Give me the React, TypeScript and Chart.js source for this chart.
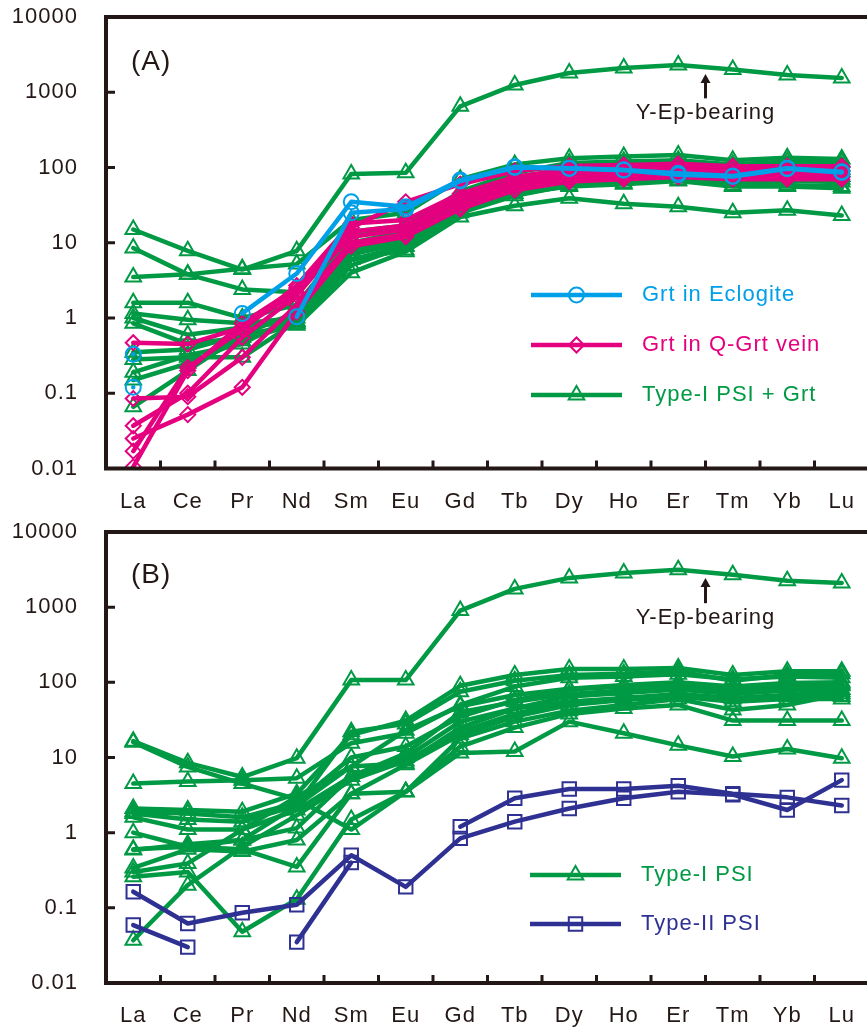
import React, { useEffect, useRef } from "react";
import { Chart, registerables } from "chart.js";

Chart.register(...registerables);

// ---------- categories & ticks ----------
const elements = ["La", "Ce", "Pr", "Nd", "Sm", "Eu", "Gd", "Tb", "Dy", "Ho", "Er", "Tm", "Yb", "Lu"];
const yTickValues = [0.01, 0.1, 1, 10, 100, 1000, 10000];
const yTickLabels = ["0.01", "0.1", "1", "10", "100", "1000", "10000"];

// ---------- Panel A: Grt in Eclogite ----------
const eclogiteA1 = [0.33, null, 1.15, 3.9, 35, 30, 68, 102, 98, 93, 84, 77, 98, 88];
const eclogiteA2 = [0.12, null, null, 1.04, 25, 28, 66, 100, 97, 92, 80, 76, 96, 86];

// ---------- Panel A: Grt in Q-Grt vein ----------
const veinA1 = [0.47, 0.45, 0.75, 2.2, 12, 15, 35, 60, 75, 80, 85, 80, 80, 80];
const veinA2 = [0.085, 0.09, 0.3, 1.5, 10, 13, 30, 55, 70, 75, 80, 75, 75, 75];
const veinA3 = [0.037, 0.1, 0.55, 2.0, 14, 17, 40, 65, 85, 90, 95, 90, 90, 90];
const veinA4 = [0.025, 0.052, 0.12, 1.2, 9, 12, 28, 50, 65, 70, 75, 70, 70, 70];
const veinA5 = [0.017, 0.22, 0.7, 2.7, 18, 20, 45, 75, 95, 100, 105, 100, 100, 100];
const veinA6 = [0.0105, 0.2, 0.85, 2.5, 16, 35, 60, 90, 105, 108, 112, 104, 104, 104];

// ---------- Panel A: Type-I PSI + Grt ----------
const psiGrtA1 = [15, 7.8, 4.4, 7.8, 82, 85, 650, 1250, 1800, 2100, 2300, 2000, 1700, 1550];
const psiGrtA2 = [8.5, 3.8, 2.4, 2.2, 14, 17, 45, 75, 95, 100, 105, 90, 95, 95];
const psiGrtA3 = [3.5, 3.8, 4.5, 5.2, 20, 25, 70, 110, 133, 140, 147, 125, 135, 130];
const psiGrtA4 = [1.6, 1.6, 1.0, 1.5, 12, 16, 48, 85, 115, 120, 125, 110, 120, 118];
const psiGrtA5 = [1.15, 0.95, 0.85, 1.0, 8, 12, 38, 65, 85, 90, 95, 85, 90, 88];
const psiGrtA6 = [1.0, 0.6, 0.75, 0.9, 7, 10, 30, 55, 70, 75, 80, 65, 70, 70];
const psiGrtA7 = [0.85, 0.45, 0.55, 0.85, 6, 9, 26, 45, 56, 60, 66, 56, 56, 53];
const psiGrtA8 = [0.35, 0.38, 0.6, 1.2, 10, 14, 40, 70, 100, 105, 110, 100, 105, 105];
const psiGrtA9 = [0.28, 0.3, 0.3, 0.9, 6, 8, 25, 42, 58, 62, 68, 58, 58, 56];
const psiGrtA10 = [0.19, 0.32, 0.45, 1.1, 8, 11, 32, 58, 78, 82, 88, 75, 78, 76];
const psiGrtA11 = [0.066, 0.2, 0.6, 0.8, 4, 7.6, 22, 31, 39, 33, 30, 25, 27, 23];
const psiGrtA12 = [0.15, 0.25, 0.5, 0.85, 5, 9, 28, 50, 65, 70, 75, 63, 66, 64];

// ---------- Panel B: Type-I PSI ----------
const psiB1 = [16.5, 8.5, 5.5, 9.8, 107, 107, 900, 1750, 2450, 2850, 3150, 2700, 2250, 2100];
const psiB2 = [16, 7.5, 4.5, 2.8, 1.1, 3.5, 11.5, 12, 30, 21, 14.5, 10.3, 13, 9.8];
const psiB3 = [4.5, 4.8, 5.0, 5.3, 15.5, 21, 50, 88, 115, 120, 128, 110, 120, 115];
const psiB4 = [2.1, 2.0, 1.9, 3.3, 20, 31, 90, 125, 150, 150, 155, 125, 140, 140];
const psiB5 = [1.8, 1.5, 1.4, 2.3, 22, 28, 75, 105, 125, 130, 140, 105, 125, 130];
const psiB6 = [1.6, 1.1, 1.1, 3.0, 7.6, 23, 48, 68, 82, 92, 100, 88, 98, 100];
const psiB7 = [1.0, 0.65, 0.8, 1.15, 5.6, 11.4, 40, 55, 70, 78, 85, 75, 85, 90];
const psiB8 = [0.59, 0.7, 0.8, 2.3, 7.6, 8.4, 25, 45, 65, 72, 80, 70, 78, 80];
const psiB9 = [0.34, 0.6, 0.56, 0.8, 3.3, 3.5, 18, 30, 42, 50, 60, 43, 50, 70];
const psiB10 = [0.3, 0.39, 1.1, 2.0, 5.6, 10, 30, 45, 55, 60, 65, 60, 65, 65];
const psiB11 = [0.26, 0.3, 0.048, 0.13, 1.5, 3.5, 14, 25, 38, 45, 50, 31, 31, 31];
const psiB12 = [0.037, 0.2, 0.65, 1.7, 5, 9, 22, 38, 55, 62, 70, 62, 68, 75];
const psiB13 = [0.6, 0.65, 0.6, 0.35, 3.3, 8, 20, 35, 50, 58, 65, 55, 60, 60];
const psiB14 = [1.9, 1.8, 1.6, 2.5, 10, 14, 35, 58, 80, 88, 95, 85, 90, 95];

// ---------- Panel B: Type-II PSI ----------
const psi2B1 = [0.164, 0.062, 0.086, 0.11, 0.5, 0.19, 0.84, 1.4, 2.1, 2.87, 3.5, 3.2, 2.0, 5.0];
const psi2B2 = [0.059, 0.03, null, 0.035, 0.4, null, 1.2, 2.87, 3.8, 3.8, 4.2, 3.3, 2.95, 2.3];

// ---------- groups ----------
const eclogiteA = [eclogiteA1, eclogiteA2];
const veinA = [veinA1, veinA2, veinA3, veinA4, veinA5, veinA6];
const psiGrtA = [psiGrtA1, psiGrtA2, psiGrtA3, psiGrtA4, psiGrtA5, psiGrtA6, psiGrtA7, psiGrtA8, psiGrtA9, psiGrtA10, psiGrtA11, psiGrtA12];
const psiB = [psiB1, psiB2, psiB3, psiB4, psiB5, psiB6, psiB7, psiB8, psiB9, psiB10, psiB11, psiB12, psiB13, psiB14];
const psi2B = [psi2B1, psi2B2];

// ---------- styles ----------
const AXIS = "#231815";
const BLUE = "#00a0e9";
const MAGENTA = "#e4007f";
const GREEN = "#009944";
const NAVY = "#2e3192";
const FONT = '"Liberation Sans", Arial, Helvetica, sans-serif';

type Style = "circle" | "rectRot" | "triangle" | "rect";
const RADIUS: Record<Style, number> = { circle: 7.5, rectRot: 7.5, triangle: 9, rect: 9.5 };

function makeSets(group: (number | null)[][], label: string, color: string, style: Style, order: number) {
  return group.map((data, i) => ({
    label: `${label} ${i + 1}`,
    data,
    borderColor: color,
    backgroundColor: "rgba(0,0,0,0)",
    borderWidth: 4.5,
    borderJoinStyle: "round",
    borderCapStyle: "round",
    pointStyle: style,
    pointRadius: RADIUS[style],
    pointBorderWidth: 2,
    pointBorderColor: color,
    pointBackgroundColor: "rgba(0,0,0,0)",
    tension: 0,
    spanGaps: false,
    order,
  }));
}

function drawMarker(ctx: CanvasRenderingContext2D, style: Style, x: number, y: number, color: string) {
  const r = RADIUS[style];
  ctx.save();
  ctx.strokeStyle = color;
  ctx.lineWidth = 2;
  ctx.beginPath();
  if (style === "circle") {
    ctx.arc(x, y, r, 0, Math.PI * 2);
  } else if (style === "rectRot") {
    ctx.moveTo(x - r, y);
    ctx.lineTo(x, y - r);
    ctx.lineTo(x + r, y);
    ctx.lineTo(x, y + r);
    ctx.closePath();
  } else if (style === "triangle") {
    const w = r * Math.sin(Math.PI / 3);
    ctx.moveTo(x, y - r);
    ctx.lineTo(x + w, y + r / 2);
    ctx.lineTo(x - w, y + r / 2);
    ctx.closePath();
  } else {
    const s = Math.SQRT1_2 * r;
    ctx.rect(x - s, y - s, 2 * s, 2 * s);
  }
  ctx.stroke();
  ctx.restore();
}

function setSpacing(chart: any) {
  try {
    chart.ctx.letterSpacing = "1px";
  } catch (e) {
    /* ignore */
  }
}

const framePlugin = {
  id: "frame",
  beforeUpdate(chart: any) {
    setSpacing(chart);
  },
  beforeLayout(chart: any) {
    setSpacing(chart);
  },
  beforeDraw(chart: any) {
    setSpacing(chart);
  },
  afterDraw(chart: any, _args: any, opts: any) {
    const { ctx, chartArea: a, scales } = chart;
    const xs = scales.x;
    const ys = scales.y;
    ctx.save();
    // axes: top, left, bottom
    ctx.strokeStyle = AXIS;
    ctx.lineWidth = 4;
    ctx.lineJoin = "miter";
    ctx.beginPath();
    ctx.moveTo(a.right + 4, a.top);
    ctx.lineTo(a.left, a.top);
    ctx.lineTo(a.left, a.bottom);
    ctx.lineTo(a.right + 4, a.bottom);
    ctx.stroke();
    // inward ticks
    ctx.lineWidth = 3;
    ctx.beginPath();
    for (let i = 1; i < elements.length; i++) {
      const px = xs.getPixelForValue(i - 0.5);
      ctx.moveTo(px, a.bottom);
      ctx.lineTo(px, a.bottom - 8);
    }
    yTickValues.forEach((v) => {
      const py = ys.getPixelForValue(v);
      ctx.moveTo(a.left, py);
      ctx.lineTo(a.left + 9, py);
    });
    ctx.stroke();

    // panel letter
    ctx.fillStyle = AXIS;
    ctx.font = `28px ${FONT}`;
    ctx.textBaseline = "middle";
    ctx.textAlign = "left";
    ctx.fillText(opts.letter, a.left + 25, a.top + opts.letterDy);

    // annotation arrow + text
    const an = opts.annotation;
    const ax = xs.getPixelForValue(an.xValue);
    const tipY = ys.getPixelForValue(an.tip);
    const baseY = ys.getPixelForValue(an.base);
    ctx.strokeStyle = AXIS;
    ctx.lineWidth = 3;
    ctx.beginPath();
    ctx.moveTo(ax, baseY);
    ctx.lineTo(ax, tipY + 6);
    ctx.stroke();
    ctx.beginPath();
    ctx.moveTo(ax, tipY);
    ctx.lineTo(ax + 5, tipY + 9);
    ctx.lineTo(ax - 5, tipY + 9);
    ctx.closePath();
    ctx.fill();
    ctx.font = `22px ${FONT}`;
    ctx.textAlign = "center";
    ctx.fillText(an.text, ax, ys.getPixelForValue(an.textAt));

    // legend
    const lg = opts.legend;
    lg.items.forEach((it: any, i: number) => {
      const y = a.top + lg.y + i * lg.dy;
      const x0 = a.left + lg.x;
      const x1 = x0 + 91;
      ctx.strokeStyle = it.color;
      ctx.lineWidth = 4.5;
      ctx.beginPath();
      ctx.moveTo(x0, y);
      ctx.lineTo(x1, y);
      ctx.stroke();
      drawMarker(ctx, it.style, (x0 + x1) / 2, y, it.color);
      ctx.fillStyle = it.color;
      ctx.font = `22px ${FONT}`;
      ctx.textAlign = "left";
      ctx.fillText(it.label, x1 + 20, y);
    });
    ctx.restore();
  },
};

const CANVAS_W = 900;
const AREA_RIGHT = 869;

function Panel({ top, height, areaBottom, datasets, frame }: any) {
  const ref = useRef<HTMLCanvasElement>(null);
  useEffect(() => {
    const chart = new Chart(ref.current as HTMLCanvasElement, {
      type: "line",
      data: { labels: elements, datasets },
      options: {
        animation: false,
        responsive: false,
        maintainAspectRatio: false,
        devicePixelRatio: 1,
        layout: { autoPadding: false, padding: { top: 17, right: CANVAS_W - AREA_RIGHT, left: 0, bottom: 0 } },
        plugins: { legend: { display: false }, tooltip: { enabled: false }, frame } as any,
        scales: {
          x: {
            type: "category",
            offset: true,
            grid: { display: false, offset: true, drawTicks: false },
            border: { display: false },
            ticks: { color: AXIS, font: { family: FONT, size: 22 }, padding: 20, autoSkip: false, maxRotation: 0, minRotation: 0 },
            afterFit: (s: any) => {
              s.height = height - areaBottom;
              s.paddingLeft = 0;
              s.paddingRight = 0;
              s.paddingTop = 0;
              s.paddingBottom = 0;
            },
          },
          y: {
            type: "logarithmic",
            min: 0.01,
            max: 10000,
            grid: { display: false, drawTicks: false },
            border: { display: false },
            afterBuildTicks: (s: any) => {
              s.ticks = yTickValues.map((v) => ({ value: v }));
            },
            ticks: {
              color: AXIS,
              font: { family: FONT, size: 22 },
              padding: 28,
              autoSkip: false,
              callback: (_v: any, i: number) => yTickLabels[i],
            },
            afterFit: (s: any) => {
              s.width = 106;
              s.paddingLeft = 0;
              s.paddingRight = 0;
              s.paddingTop = 0;
              s.paddingBottom = 0;
            },
          },
        },
      } as any,
      plugins: [framePlugin as any],
    });
    return () => chart.destroy();
  }, []);
  return (
    <canvas
      ref={ref}
      width={CANVAS_W}
      height={height}
      style={{ position: "absolute", left: 0, top, width: CANVAS_W, height }}
    />
  );
}

export default function App() {
  const datasetsA = [
    ...makeSets(eclogiteA, "Grt in Eclogite", BLUE, "circle", 1),
    ...makeSets(veinA, "Grt in Q-Grt vein", MAGENTA, "rectRot", 2),
    ...makeSets(psiGrtA, "Type-I PSI + Grt", GREEN, "triangle", 3),
  ];
  const datasetsB = [
    ...makeSets(psi2B, "Type-II PSI", NAVY, "rect", 1),
    ...makeSets(psiB, "Type-I PSI", GREEN, "triangle", 2),
  ];
  const frameA = {
    letter: "(A)",
    letterDy: 45,
    annotation: { text: "Y-Ep-bearing", xValue: 10.5, tip: 1750, base: 830, textAt: 530 },
    legend: {
      x: 425,
      y: 278,
      dy: 50,
      items: [
        { label: "Grt in Eclogite", color: BLUE, style: "circle" },
        { label: "Grt in Q-Grt vein", color: MAGENTA, style: "rectRot" },
        { label: "Type-I PSI + Grt", color: GREEN, style: "triangle" },
      ],
    },
  };
  const frameB = {
    letter: "(B)",
    letterDy: 43,
    annotation: { text: "Y-Ep-bearing", xValue: 10.5, tip: 2450, base: 1130, textAt: 720 },
    legend: {
      x: 424,
      y: 343,
      dy: 49,
      items: [
        { label: "Type-I PSI", color: GREEN, style: "triangle" },
        { label: "Type-II PSI", color: NAVY, style: "rect" },
      ],
    },
  };
  return (
    <div style={{ position: "fixed", left: 0, top: 0, width: 867, height: 1032, overflow: "hidden", background: "#fff" }}>
      <Panel top={0} height={515} areaBottom={468.5} datasets={datasetsA} frame={frameA} />
      <Panel top={515} height={517} areaBottom={468} datasets={datasetsB} frame={frameB} />
    </div>
  );
}
